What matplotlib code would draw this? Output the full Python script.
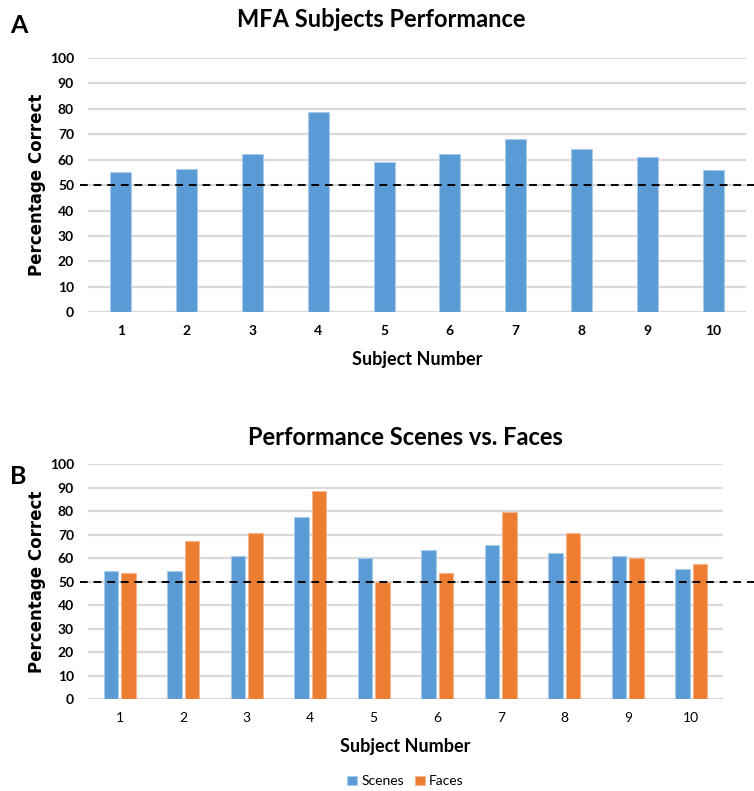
import numpy as np
import matplotlib.pyplot as plt
import matplotlib.transforms as mtransforms

subjects = ['1', '2', '3', '4', '5', '6', '7', '8', '9', '10']
mfa_perf = [55.2, 56.4, 62.3, 78.9, 59.0, 62.3, 68.1, 64.2, 61.0, 55.9]
scenes = [54.5, 54.5, 60.8, 77.3, 60.0, 63.6, 65.6, 62.2, 60.8, 55.2]
faces = [53.8, 67.1, 70.5, 88.5, 49.7, 53.8, 79.6, 70.5, 60.0, 57.4]
yticks = [0, 10, 20, 30, 40, 50, 60, 70, 80, 90, 100]
chance = 50

blue = '#5B9BD5'
orange = '#ED7D31'
grid_c = '#D9D9D9'
narrow = ['Lato', 'DejaVu Sans']

fig = plt.figure(figsize=(7.54, 7.91), dpi=100)
axA = fig.add_axes([0.1167, 0.6052, 0.8727, 0.3215])
axB = fig.add_axes([0.1167, 0.1159, 0.8422, 0.2975])

x = np.arange(len(subjects))


def style(ax, xbold):
    ax.set_ylim(0, 100)
    ax.set_xlim(-0.5, len(subjects) - 0.5)
    ax.set_yticks(yticks)
    ax.set_xticks(x)
    ax.set_xticklabels(subjects, fontfamily=narrow, fontsize=10,
                       fontweight='bold' if xbold else 'normal')
    ax.set_yticklabels([str(t) for t in yticks], fontfamily=narrow,
                       fontsize=10, fontweight='bold')
    ax.tick_params(length=0, pad=10)
    ax.tick_params(axis='x', pad=9)
    for s in ax.spines.values():
        s.set_visible(False)
    ax.grid(axis='y', color=grid_c, linewidth=1.6)
    ax.set_axisbelow(True)
    ax.set_ylabel('Percentage Correct', fontfamily='DejaVu Sans',
                  fontsize=12, fontweight='bold', labelpad=3)
    ax.set_xlabel('Subject Number', fontfamily=narrow, fontsize=13,
                  fontweight='bold', labelpad=10)


# panel A
axA.bar(x, mfa_perf, width=0.32, color=blue, edgecolor='#A9CBEA', linewidth=0.8)
style(axA, True)
trA = mtransforms.blended_transform_factory(axA.transAxes, axA.transData)
axA.plot([-0.012, 1.02], [chance, chance], transform=trA, color='black',
         linestyle=(0, (4, 3)), linewidth=1.4, clip_on=False, zorder=5)
axA.set_title('MFA Subjects Performance', fontfamily=narrow, fontsize=17,
              fontweight='bold', pad=22, x=0.446)

# panel B
w = 0.225
off = 0.139
axB.bar(x - off, scenes, width=w, color=blue, edgecolor='#A9CBEA',
        linewidth=0.8, label='Scenes')
axB.bar(x + off, faces, width=w, color=orange, edgecolor='#F4B58E',
        linewidth=0.8, label='Faces')
style(axB, False)
trB = mtransforms.blended_transform_factory(axB.transAxes, axB.transData)
axB.plot([-0.013, 1.06], [chance, chance], transform=trB, color='black',
         linestyle=(0, (4, 3)), linewidth=1.4, clip_on=False, zorder=5)
axB.set_title('Performance Scenes vs. Faces', fontfamily=narrow, fontsize=17,
              fontweight='bold', pad=14)
axB.legend(loc='upper center', bbox_to_anchor=(0.5, -0.27), ncol=2,
           frameon=False, prop={'family': narrow, 'size': 10},
           handlelength=0.7, handleheight=0.7, handletextpad=0.3,
           columnspacing=0.8)

fig.text(0.013, 0.958, 'A', fontfamily=narrow, fontsize=18, fontweight='bold')
fig.text(0.013, 0.388, 'B', fontfamily=narrow, fontsize=18, fontweight='bold')

fig.savefig('out.png', dpi=100)
